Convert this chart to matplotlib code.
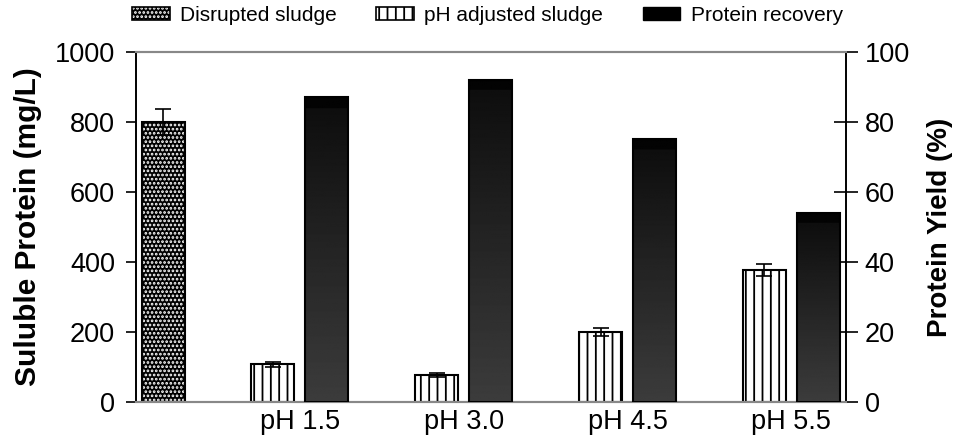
import numpy as np
from matplotlib import pyplot as plt
from matplotlib.patches import Patch

plt.rcParams['font.family'] = ['Liberation Sans', 'DejaVu Sans']
plt.rcParams['hatch.linewidth'] = 1.3

# data
ph_labels = ["pH 1.5", "pH 3.0", "pH 4.5", "pH 5.5"]
disrupted_value = 800
disrupted_err = 38
adjusted_values = [108, 78, 200, 377]
adjusted_err = [7, 6, 11, 18]
recovery_values = [87, 92, 75, 54]
legend_labels = ["Disrupted sludge", "pH adjusted sludge", "Protein recovery"]

fig = plt.figure(figsize=(9.56, 4.42), dpi=100)
ax = fig.add_axes([136 / 956, 40 / 442, 710 / 956, 350 / 442])
ax2 = ax.twinx()

width = 0.262
offset = 0.165
x = np.arange(1, len(ph_labels) + 1)
x_disrupted = 0.165

# disrupted sludge: black with white dots
ax.bar(x_disrupted, disrupted_value, width, color="black", edgecolor="white",
       hatch="....", linewidth=0, zorder=2)
ax.bar(x_disrupted, disrupted_value, width, fill=False, edgecolor="black",
       linewidth=1.5, zorder=3)
ax.errorbar(x_disrupted, disrupted_value, yerr=disrupted_err, fmt="none",
            ecolor="black", elinewidth=1.2, capsize=5.5, capthick=1.2, zorder=4)

# pH adjusted sludge: white with vertical lines
ax.bar(x - offset, adjusted_values, width, color="white", edgecolor="black",
       hatch="||", linewidth=1.5, zorder=2)
ax.errorbar(x - offset, adjusted_values, yerr=adjusted_err, fmt="none",
            ecolor="black", elinewidth=1.2, capsize=5.5, capthick=1.2, zorder=4)

# protein recovery: dark gradient bars on the right axis
bars = ax2.bar(x + offset, recovery_values, width, facecolor="none",
               edgecolor="black", linewidth=1.5, zorder=3)
for b in bars:
    h = b.get_height()
    t = np.linspace(0, 1, 300)[:, None]
    band = 3.0 / h
    grad = np.where(t > 1 - band, 3, 60 - 46 * t / (1 - band))
    im = ax2.imshow(grad[::-1], extent=[b.get_x(), b.get_x() + b.get_width(), 0, h],
                    aspect="auto", cmap="gray", vmin=0, vmax=255, zorder=2,
                    interpolation="bilinear")
    im.set_clip_path(b)

ax.set_xlim(0, 4.333)
ax.set_ylim(0, 1000)
ax2.set_ylim(0, 100)
ax.set_yticks(range(0, 1001, 200))
ax2.set_yticks(range(0, 101, 20))
ax.set_xticks(x)
ax.set_xticklabels(ph_labels, fontsize=19.5)
ax.tick_params(axis="x", length=0, pad=5)
ax.tick_params(axis="y", labelsize=19.5, direction="out", length=7, width=1.2, pad=8)
ax2.tick_params(axis="y", labelsize=19.5, direction="inout", length=17, width=1.2, pad=5)

for a in (ax, ax2):
    a.spines["top"].set_color("#888888")
    a.spines["bottom"].set_color("#888888")
    a.spines["top"].set_linewidth(1.5)
    a.spines["bottom"].set_linewidth(1.5)
    a.spines["left"].set_linewidth(1.2)
    a.spines["right"].set_linewidth(1.2)

ax.set_ylabel("Suluble Protein (mg/L)", fontsize=21.5, fontweight="bold", labelpad=9)
ax2.set_ylabel("Protein Yield (%)", fontsize=20, fontweight="bold", labelpad=12)

h1 = (Patch(facecolor="black", edgecolor="white", hatch="....", linewidth=0),
      Patch(fill=False, edgecolor="black", linewidth=1.2))
h2 = Patch(facecolor="white", edgecolor="black", hatch="||", linewidth=1.2)
h3 = Patch(facecolor="black", edgecolor="black")
fig.legend([h1, h2, h3], legend_labels, loc="center", bbox_to_anchor=(0.51, 0.965),
           ncol=3, frameon=False, fontsize=15, handlelength=1.8, handleheight=0.55,
           handletextpad=0.5, columnspacing=1.9)

fig.savefig("out.png", dpi=100)
